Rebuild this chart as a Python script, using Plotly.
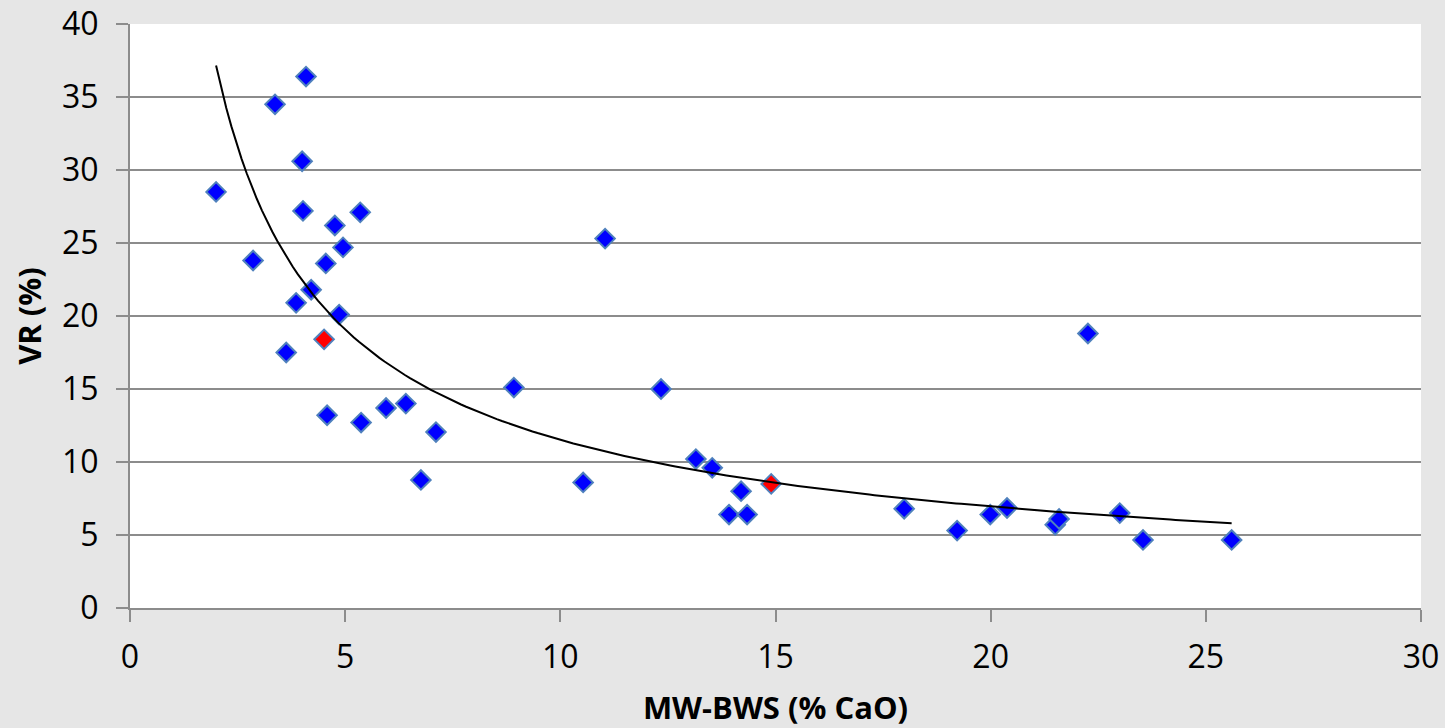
import numpy as np
import plotly.graph_objects as go

# Blue series (MW-BWS %CaO, VR %)
blue_x = [2.0, 2.86, 3.37, 4.09, 4.0, 4.02, 3.86, 3.63, 4.21, 4.55, 4.76, 4.95, 5.35, 4.86,
          4.58, 5.37, 5.95, 6.41, 7.11, 6.76, 8.92, 10.53, 11.04, 12.34, 13.15, 13.53, 14.2,
          13.92, 14.34, 17.99, 19.22, 19.99, 20.38, 21.5, 21.59, 22.26, 23.0, 23.54, 25.6]
blue_y = [28.5, 23.8, 34.5, 36.4, 30.6, 27.2, 20.9, 17.5, 21.8, 23.6, 26.2, 24.7, 27.1, 20.1,
          13.2, 12.7, 13.7, 14.0, 12.05, 8.77, 15.1, 8.6, 25.3, 15.0, 10.2, 9.6, 8.0,
          6.4, 6.4, 6.8, 5.3, 6.4, 6.85, 5.7, 6.1, 18.8, 6.5, 4.66, 4.66]

# Red series
red_x = [4.51, 14.9]
red_y = [18.4, 8.5]

x_ticks = [0, 5, 10, 15, 20, 25, 30]
y_ticks = [0, 5, 10, 15, 20, 25, 30, 35, 40]

# Power trendline (least squares in log-log space, as spreadsheet software does)
all_x = np.array(blue_x + red_x)
all_y = np.array(blue_y + red_y)
b, ln_a = np.polyfit(np.log(all_x), np.log(all_y), 1)
tx = np.linspace(all_x.min(), all_x.max(), 200)
ty = np.exp(ln_a) * tx ** b

marker_line = dict(color="#4f81bd", width=2)

fig = go.Figure()
fig.add_trace(go.Scatter(x=blue_x, y=blue_y, mode="markers",
                         marker=dict(symbol="diamond", size=15, color="#0000ff", line=marker_line),
                         showlegend=False))
fig.add_trace(go.Scatter(x=red_x, y=red_y, mode="markers",
                         marker=dict(symbol="diamond", size=15, color="#ff0000", line=marker_line),
                         showlegend=False))
fig.add_trace(go.Scatter(x=tx, y=ty, mode="lines", line=dict(color="black", width=2),
                         showlegend=False, hoverinfo="skip"))

font_family = "Open Sans, Liberation Sans, sans-serif"
fig.update_layout(
    width=1445, height=728,
    paper_bgcolor="#e6e6e6", plot_bgcolor="white",
    margin=dict(l=130, r=24, t=24, b=120),
    font=dict(family=font_family, size=32, color="black"),
    xaxis=dict(range=[0, 30], tickvals=x_ticks, showgrid=False, zeroline=False,
               showline=True, linecolor="#8c8c8c", linewidth=2, automargin=False,
               ticks="outside", ticklen=12, tickcolor="#8c8c8c", tickwidth=2,
               tickfont=dict(size=32), ticklabelstandoff=8,
               title=dict(text="<b>MW-BWS (% CaO)</b>", font=dict(size=31), standoff=26)),
    yaxis=dict(range=[0, 40], tickvals=y_ticks, showgrid=True, gridcolor="#8c8c8c", gridwidth=2,
               zeroline=False, showline=True, linecolor="#8c8c8c", linewidth=2, automargin=False,
               ticks="outside", ticklen=12, tickcolor="#8c8c8c", tickwidth=2,
               tickfont=dict(size=32), ticklabelstandoff=11,
               title=dict(text="<b>VR (%)</b>", font=dict(size=31), standoff=11)),
)

fig.write_html("out.html", config={"displayModeBar": False},
               post_script="document.body.style.margin='0';")
